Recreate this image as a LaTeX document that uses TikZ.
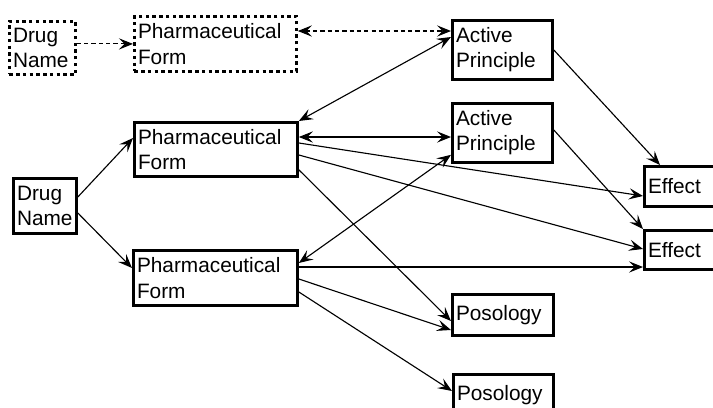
\documentclass[tikz,border=0pt]{standalone}
\usepackage{fontspec}
\setmainfont{Liberation Sans}
\usetikzlibrary{arrows.meta, calc}

\tikzset{
  box/.style={draw, line width=2pt, anchor=north west, align=left,
    inner xsep=0.09cm, inner ysep=0pt, font=\fontsize{14.8}{18}\selectfont},
  ghost/.style={box, dash pattern=on 2.4pt off 2.4pt},
  link/.style={line width=0.8pt},
  hint/.style={line width=0.8pt, dash pattern=on 3pt off 2.2pt}
}

\begin{document}
\begin{tikzpicture}[x=0.025cm, y=-0.025cm,
  >={Stealth[length=10pt, width=8pt, inset=4pt]}]
  \useasboundingbox (0,0) rectangle (713,408);
  \clip (0,0) rectangle (713,408);

  % dashed row
  \node[ghost, text width=1.47cm, minimum height=1.325cm] (dn0) at (8,20) {Drug\\Name};
  \node[ghost, text width=3.87cm, minimum height=1.375cm] (pf0) at (133,15) {Pharmaceutical\\Form};

  % boxes
  \node[box, text width=1.395cm, minimum height=1.375cm] (dn) at (12,177) {Drug\\Name};
  \node[box, text width=3.895cm, minimum height=1.35cm] (pf1) at (133,121) {Pharmaceutical\\Form};
  \node[box, text width=3.92cm, minimum height=1.375cm] (pf2) at (132,249) {Pharmaceutical\\Form};
  \node[box, text width=2.32cm, minimum height=1.475cm] (ap1) at (451,19) {Active\\Principle};
  \node[box, text width=2.32cm, minimum height=1.475cm] (ap2) at (451,102) {Active\\Principle};
  \node[box, text width=1.82cm, minimum height=1.0cm] (eff1) at (643,165) {Effect};
  \node[box, text width=1.82cm, minimum height=0.975cm] (eff2) at (643,229) {Effect};
  \node[box, text width=2.345cm, minimum height=1.025cm] (pos1) at (451,293) {Posology};
  \node[box, text width=2.32cm, minimum height=1.025cm] (pos2) at (452,373) {Posology};

  \coordinate (t0) at ($(pf0.north east)+(0,16)$);
  \coordinate (t1) at ($(pf1.north east)+(0,16)$);
  \coordinate (t2) at ($(pf2.north east)+(0,18)$);

  \draw[hint, ->] (dn0.east |- pf0.west) -- (pf0.west);
  \draw[hint, <->] (t0) -- (ap1.west |- t0);

  \draw[link, ->] ($(dn.north east)+(0,20)$) -- ($(pf1.north west)+(0,17)$);
  \draw[link, ->] ($(dn.north east)+(0,36)$) -- ($(pf2.north west)+(0,19)$);

  \draw[link, <->] (pf1.north east) -- ($(ap1.north west)+(0,18)$);
  \draw[link, <->] (t1) -- (ap2.west |- t1);
  \draw[link, <->] ($(pf2.north east)+(0,14)$) -- ($(ap2.south west)+(0,-9)$);

  \draw[link, ->] ($(ap1.north east)+(0,31)$) -- ($(eff1.north west)+(17,0)$);
  \draw[link, ->] ($(ap2.north east)+(0,28)$) -- (eff2.north west);

  \draw[link, ->] ($(pf1.north east)+(0,22)$) -- ($(eff1.north west)+(0,31)$);
  \draw[link, ->] ($(pf1.north east)+(0,34)$) -- ($(eff2.north west)+(0,20)$);
  \draw[link, ->] ($(pf1.south east)+(0,-8)$) -- ($(pos1.north west)+(0,28)$);

  \draw[link, ->] (t2) -- (eff2.west |- t2);
  \draw[link, ->] ($(pf2.north east)+(0,30)$) -- ($(pos1.north west)+(0,37)$);
  \draw[link, ->] ($(pf2.north east)+(0,43)$) -- ($(pos2.north west)+(0,18)$);
\end{tikzpicture}
\end{document}
